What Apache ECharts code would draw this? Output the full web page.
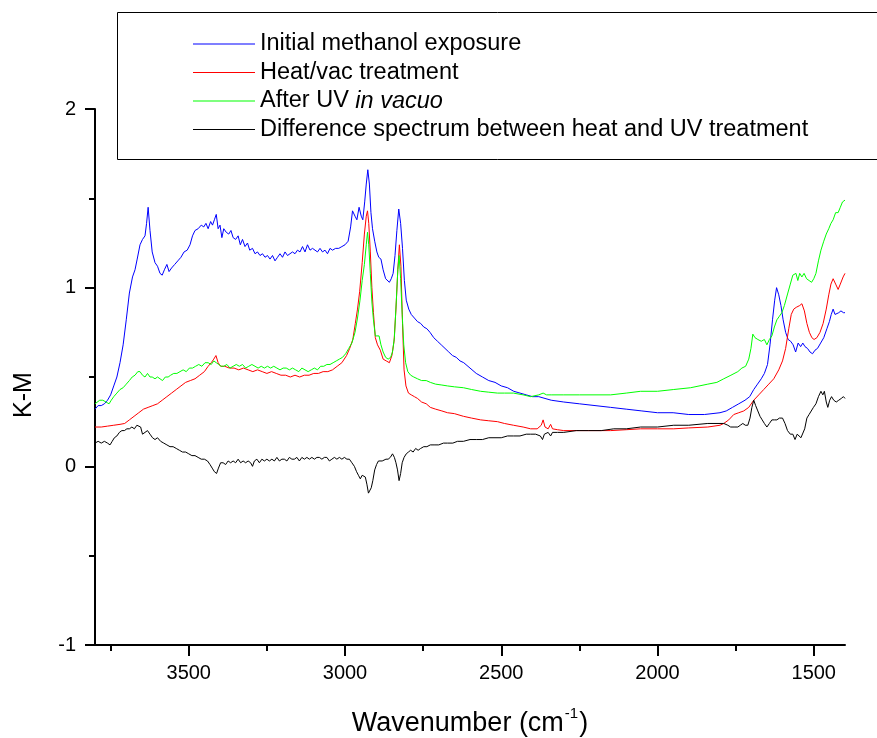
<!DOCTYPE html>
<html>
<head>
<meta charset="utf-8">
<script src="https://cdn.jsdelivr.net/npm/echarts@6/dist/echarts.min.js"></script>
<style>
html,body{margin:0;padding:0;background:#fff;}
#chart{width:877px;height:738px;}
</style>
</head>
<body>
<div id="chart"></div>
<script>
// ---- data (wavenumber cm-1, K-M) ----
const seriesNames = ['Initial methanol exposure', 'Heat/vac treatment', 'After UV in vacuo', 'Difference spectrum between heat and UV treatment'];
const seriesColors = ['#0000ff', '#ff0000', '#00ff00', '#000000'];
const xTickValues = [3500, 3000, 2500, 2000, 1500];
const xMinorTickValues = [3750, 3250, 2750, 2250, 1750];
const yTickValues = [-1, 0, 1, 2];

const initialMethanol = [
[3800,0.32],[3790,0.34],[3780,0.34],[3770,0.35],[3760,0.37],[3750,0.40],[3740,0.45],[3730,0.50],[3720,0.58],[3710,0.68],[3700,0.82],[3690,0.97],[3680,1.06],[3672,1.10],[3665,1.16],[3656,1.24],[3648,1.27],[3640,1.29],[3635,1.36],[3630,1.45],[3624,1.32],[3617,1.20],[3608,1.14],[3600,1.12],[3592,1.08],[3585,1.07],[3578,1.10],[3570,1.13],[3563,1.09],[3555,1.11],[3545,1.13],[3535,1.15],[3525,1.17],[3515,1.20],[3505,1.21],[3496,1.24],[3488,1.29],[3480,1.32],[3470,1.33],[3460,1.35],[3452,1.34],[3445,1.36],[3438,1.33],[3430,1.37],[3424,1.35],[3418,1.38],[3412,1.41],[3406,1.33],[3400,1.35],[3394,1.28],[3388,1.33],[3380,1.31],[3372,1.30],[3365,1.32],[3358,1.28],[3350,1.27],[3342,1.29],[3335,1.24],[3328,1.27],[3320,1.23],[3312,1.25],[3305,1.21],[3296,1.22],[3288,1.19],[3280,1.20],[3272,1.18],[3264,1.19],[3256,1.17],[3248,1.18],[3240,1.16],[3232,1.18],[3224,1.15],[3216,1.17],[3208,1.19],[3200,1.17],[3192,1.20],[3184,1.18],[3176,1.19],[3168,1.20],[3160,1.19],[3152,1.21],[3144,1.20],[3136,1.23],[3128,1.20],[3120,1.24],[3112,1.21],[3104,1.22],[3096,1.21],[3088,1.20],[3080,1.22],[3072,1.20],[3064,1.21],[3056,1.19],[3048,1.22],[3040,1.21],[3030,1.22],[3020,1.22],[3010,1.23],[3000,1.24],[2990,1.26],[2982,1.34],[2976,1.43],[2968,1.40],[2962,1.38],[2955,1.45],[2948,1.40],[2943,1.38],[2937,1.48],[2932,1.58],[2927,1.66],[2922,1.58],[2917,1.42],[2912,1.33],[2905,1.26],[2898,1.20],[2892,1.17],[2885,1.16],[2878,1.10],[2870,1.05],[2864,1.06],[2858,1.03],[2852,1.05],[2846,1.08],[2840,1.18],[2834,1.32],[2828,1.44],[2822,1.36],[2816,1.22],[2810,1.04],[2804,0.93],[2796,0.88],[2788,0.85],[2778,0.83],[2768,0.81],[2758,0.80],[2748,0.78],[2738,0.77],[2728,0.75],[2716,0.72],[2704,0.70],[2692,0.68],[2680,0.66],[2668,0.64],[2656,0.62],[2644,0.61],[2632,0.59],[2620,0.58],[2600,0.55],[2580,0.52],[2560,0.50],[2540,0.48],[2520,0.47],[2500,0.45],[2480,0.44],[2460,0.42],[2440,0.41],[2420,0.40],[2400,0.39],[2380,0.39],[2360,0.38],[2340,0.37],[2300,0.36],[2250,0.35],[2200,0.34],[2150,0.33],[2100,0.32],[2050,0.31],[2000,0.30],[1950,0.30],[1900,0.29],[1850,0.29],[1800,0.30],[1780,0.31],[1760,0.33],[1740,0.35],[1720,0.37],[1705,0.39],[1692,0.43],[1680,0.46],[1668,0.49],[1658,0.52],[1648,0.57],[1640,0.68],[1632,0.82],[1625,0.93],[1619,1.00],[1612,0.96],[1605,0.90],[1598,0.82],[1590,0.75],[1582,0.71],[1574,0.70],[1566,0.68],[1558,0.64],[1550,0.69],[1542,0.67],[1535,0.69],[1528,0.67],[1520,0.66],[1512,0.64],[1504,0.63],[1496,0.65],[1488,0.66],[1478,0.69],[1468,0.72],[1458,0.77],[1450,0.81],[1444,0.85],[1438,0.88],[1432,0.85],[1426,0.84],[1420,0.86],[1413,0.87],[1405,0.86],[1400,0.86]
];

const heatVac = [
[3800,0.22],[3780,0.22],[3760,0.225],[3740,0.23],[3720,0.235],[3705,0.24],[3690,0.26],[3675,0.28],[3660,0.30],[3645,0.32],[3630,0.33],[3615,0.34],[3600,0.35],[3585,0.37],[3570,0.39],[3555,0.41],[3540,0.43],[3525,0.45],[3510,0.47],[3495,0.48],[3480,0.49],[3465,0.51],[3450,0.53],[3438,0.56],[3428,0.58],[3420,0.60],[3413,0.62],[3406,0.58],[3398,0.56],[3385,0.56],[3370,0.55],[3355,0.55],[3340,0.54],[3325,0.55],[3310,0.54],[3295,0.53],[3280,0.54],[3265,0.53],[3250,0.52],[3235,0.53],[3220,0.52],[3205,0.51],[3190,0.51],[3175,0.50],[3160,0.51],[3145,0.50],[3130,0.51],[3115,0.51],[3100,0.52],[3085,0.52],[3070,0.53],[3055,0.53],[3040,0.54],[3025,0.56],[3010,0.58],[2995,0.62],[2985,0.66],[2975,0.71],[2967,0.80],[2960,0.88],[2953,0.98],[2945,1.14],[2938,1.30],[2932,1.40],[2928,1.43],[2924,1.36],[2919,1.20],[2914,1.00],[2909,0.86],[2903,0.72],[2896,0.68],[2887,0.65],[2878,0.60],[2868,0.59],[2858,0.58],[2850,0.62],[2843,0.70],[2837,0.88],[2831,1.10],[2826,1.24],[2821,1.12],[2816,0.80],[2811,0.54],[2805,0.45],[2797,0.41],[2788,0.40],[2778,0.39],[2768,0.38],[2755,0.36],[2740,0.35],[2727,0.33],[2710,0.32],[2690,0.31],[2672,0.30],[2650,0.295],[2621,0.28],[2595,0.27],[2566,0.26],[2540,0.255],[2512,0.25],[2490,0.24],[2461,0.23],[2430,0.22],[2406,0.21],[2385,0.21],[2372,0.23],[2366,0.26],[2360,0.22],[2350,0.21],[2342,0.235],[2336,0.21],[2320,0.205],[2300,0.20],[2250,0.20],[2200,0.20],[2150,0.20],[2100,0.205],[2054,0.21],[2000,0.21],[1948,0.21],[1900,0.215],[1839,0.22],[1800,0.23],[1788,0.24],[1772,0.26],[1756,0.29],[1740,0.30],[1724,0.31],[1708,0.33],[1692,0.37],[1676,0.40],[1660,0.43],[1644,0.46],[1628,0.49],[1612,0.54],[1600,0.59],[1590,0.66],[1580,0.77],[1572,0.85],[1564,0.88],[1556,0.89],[1545,0.90],[1538,0.91],[1530,0.87],[1522,0.80],[1514,0.75],[1506,0.72],[1499,0.71],[1490,0.72],[1480,0.75],[1470,0.80],[1460,0.88],[1452,0.96],[1445,1.02],[1438,1.05],[1430,1.02],[1422,0.99],[1415,1.02],[1406,1.06],[1400,1.08]
];

const afterUV = [
[3800,0.35],[3795,0.36],[3785,0.37],[3775,0.37],[3765,0.36],[3755,0.35],[3748,0.37],[3740,0.39],[3730,0.41],[3720,0.43],[3710,0.44],[3700,0.46],[3690,0.48],[3681,0.50],[3672,0.51],[3663,0.53],[3656,0.53],[3648,0.51],[3640,0.50],[3632,0.52],[3624,0.50],[3617,0.50],[3608,0.49],[3600,0.50],[3592,0.49],[3584,0.48],[3575,0.50],[3566,0.50],[3558,0.51],[3548,0.52],[3538,0.52],[3528,0.53],[3518,0.54],[3508,0.53],[3498,0.55],[3488,0.55],[3478,0.56],[3468,0.57],[3458,0.56],[3448,0.58],[3438,0.58],[3428,0.57],[3420,0.59],[3412,0.58],[3404,0.57],[3396,0.56],[3388,0.56],[3378,0.57],[3368,0.55],[3358,0.56],[3348,0.57],[3338,0.56],[3328,0.57],[3318,0.55],[3308,0.56],[3298,0.57],[3288,0.56],[3278,0.55],[3268,0.56],[3258,0.55],[3248,0.56],[3238,0.55],[3228,0.56],[3218,0.55],[3208,0.54],[3198,0.55],[3188,0.55],[3178,0.54],[3168,0.55],[3158,0.54],[3148,0.53],[3138,0.55],[3128,0.54],[3118,0.53],[3108,0.54],[3098,0.55],[3088,0.54],[3078,0.56],[3068,0.56],[3058,0.57],[3048,0.57],[3038,0.58],[3028,0.59],[3018,0.60],[3008,0.61],[2998,0.63],[2988,0.66],[2978,0.69],[2968,0.75],[2960,0.83],[2952,0.93],[2945,1.04],[2938,1.13],[2932,1.24],[2928,1.31],[2924,1.24],[2919,1.08],[2914,0.92],[2909,0.82],[2903,0.73],[2897,0.72],[2891,0.73],[2885,0.68],[2878,0.64],[2870,0.61],[2862,0.60],[2854,0.61],[2848,0.64],[2842,0.72],[2836,0.92],[2831,1.10],[2827,1.18],[2822,1.05],[2817,0.85],[2812,0.68],[2806,0.58],[2799,0.53],[2790,0.51],[2780,0.50],[2768,0.49],[2755,0.48],[2740,0.48],[2727,0.47],[2710,0.46],[2690,0.455],[2672,0.45],[2650,0.445],[2621,0.44],[2595,0.43],[2566,0.42],[2540,0.415],[2512,0.41],[2490,0.41],[2461,0.41],[2430,0.40],[2406,0.39],[2380,0.40],[2366,0.41],[2355,0.40],[2340,0.40],[2300,0.40],[2250,0.40],[2200,0.40],[2150,0.40],[2100,0.41],[2054,0.42],[2000,0.42],[1948,0.43],[1894,0.44],[1839,0.46],[1810,0.47],[1788,0.49],[1765,0.51],[1743,0.53],[1730,0.55],[1718,0.56],[1708,0.60],[1701,0.66],[1695,0.74],[1688,0.72],[1679,0.71],[1668,0.70],[1658,0.71],[1650,0.68],[1642,0.71],[1634,0.73],[1626,0.78],[1618,0.82],[1610,0.84],[1602,0.86],[1594,0.90],[1583,0.97],[1575,1.02],[1567,1.07],[1557,1.08],[1551,1.04],[1545,1.08],[1538,1.06],[1531,1.08],[1523,1.05],[1515,1.04],[1507,1.03],[1500,1.05],[1493,1.08],[1485,1.15],[1477,1.21],[1468,1.26],[1460,1.30],[1452,1.33],[1445,1.36],[1438,1.38],[1430,1.42],[1422,1.42],[1415,1.45],[1408,1.48],[1400,1.49]
];

const difference = [
[3800,0.13],[3790,0.14],[3780,0.13],[3770,0.14],[3760,0.13],[3752,0.12],[3745,0.14],[3738,0.16],[3730,0.17],[3722,0.19],[3714,0.20],[3706,0.20],[3698,0.21],[3690,0.21],[3682,0.22],[3674,0.21],[3666,0.23],[3660,0.24],[3654,0.22],[3648,0.18],[3640,0.19],[3632,0.20],[3624,0.18],[3616,0.16],[3608,0.15],[3600,0.16],[3590,0.14],[3580,0.13],[3570,0.12],[3560,0.11],[3550,0.11],[3540,0.10],[3530,0.09],[3520,0.08],[3510,0.08],[3500,0.07],[3490,0.06],[3480,0.06],[3470,0.05],[3460,0.04],[3450,0.04],[3440,0.03],[3432,0.01],[3425,-0.01],[3418,-0.03],[3411,-0.04],[3405,-0.01],[3398,0.02],[3390,0.02],[3382,0.01],[3374,0.03],[3366,0.02],[3358,0.03],[3350,0.02],[3342,0.04],[3334,0.02],[3326,0.03],[3318,0.02],[3310,0.03],[3302,0.02],[3296,0.00],[3290,0.03],[3282,0.04],[3274,0.02],[3266,0.04],[3258,0.03],[3250,0.04],[3242,0.03],[3234,0.04],[3226,0.03],[3218,0.05],[3210,0.03],[3202,0.04],[3194,0.04],[3186,0.03],[3178,0.05],[3170,0.04],[3162,0.04],[3154,0.05],[3146,0.03],[3138,0.05],[3130,0.04],[3122,0.05],[3114,0.04],[3106,0.05],[3098,0.04],[3090,0.05],[3082,0.05],[3074,0.04],[3066,0.05],[3058,0.05],[3050,0.03],[3042,0.04],[3034,0.05],[3026,0.04],[3018,0.05],[3010,0.04],[3002,0.05],[2994,0.04],[2986,0.04],[2978,0.02],[2970,0.00],[2963,-0.03],[2957,-0.05],[2951,-0.07],[2945,-0.05],[2940,-0.05],[2935,-0.06],[2930,-0.10],[2925,-0.15],[2921,-0.16],[2916,-0.12],[2911,-0.08],[2905,-0.02],[2899,0.01],[2893,0.03],[2887,0.02],[2881,0.03],[2875,0.02],[2869,0.04],[2862,0.04],[2855,0.05],[2848,0.07],[2842,0.05],[2837,0.02],[2832,-0.02],[2827,-0.08],[2822,-0.04],[2817,0.02],[2811,0.05],[2804,0.07],[2797,0.08],[2790,0.09],[2782,0.08],[2774,0.10],[2766,0.09],[2758,0.10],[2748,0.11],[2738,0.11],[2727,0.12],[2715,0.12],[2700,0.12],[2685,0.13],[2672,0.13],[2655,0.13],[2640,0.14],[2621,0.14],[2600,0.15],[2580,0.15],[2560,0.15],[2540,0.16],[2520,0.16],[2500,0.16],[2480,0.17],[2461,0.17],[2440,0.17],[2420,0.18],[2406,0.18],[2390,0.18],[2375,0.17],[2368,0.15],[2362,0.18],[2350,0.19],[2342,0.17],[2336,0.19],[2320,0.19],[2300,0.19],[2260,0.20],[2220,0.20],[2180,0.20],[2140,0.21],[2100,0.21],[2054,0.22],[2000,0.22],[1948,0.23],[1900,0.23],[1839,0.24],[1800,0.24],[1788,0.24],[1775,0.23],[1766,0.22],[1755,0.22],[1743,0.22],[1735,0.23],[1727,0.24],[1719,0.23],[1711,0.23],[1704,0.27],[1698,0.33],[1692,0.37],[1686,0.34],[1679,0.31],[1672,0.28],[1665,0.26],[1658,0.24],[1650,0.22],[1642,0.24],[1634,0.26],[1626,0.26],[1618,0.26],[1610,0.27],[1600,0.27],[1592,0.24],[1584,0.20],[1575,0.18],[1567,0.18],[1560,0.15],[1553,0.18],[1547,0.19],[1541,0.16],[1535,0.15],[1529,0.21],[1522,0.27],[1515,0.29],[1509,0.30],[1501,0.33],[1493,0.35],[1485,0.39],[1477,0.42],[1471,0.40],[1466,0.42],[1460,0.36],[1455,0.33],[1449,0.37],[1443,0.39],[1436,0.37],[1428,0.36],[1420,0.37],[1412,0.38],[1405,0.39],[1400,0.38]
];

const allData = [initialMethanol, heatVac, afterUV, difference];

// ---- chart ----
const FONT = '"Liberation Sans", Arial, sans-serif';
const chart = echarts.init(document.getElementById('chart'), null, {renderer: 'canvas'});

const series = allData.map((d, i) => ({
  name: seriesNames[i],
  type: 'line',
  data: d,
  xAxisIndex: 0,
  yAxisIndex: 0,
  symbol: 'none',
  showSymbol: false,
  smooth: false,
  animation: false,
  color: seriesColors[i],
  lineStyle: {color: seriesColors[i], width: 1},
  itemStyle: {color: seriesColors[i]},
  z: 2
}));

const option = {
  backgroundColor: '#ffffff',
  animation: false,
  grid: {left: 95, right: 32, top: 109, bottom: 93, containLabel: false, outerBoundsMode: 'none'},
  xAxis: [{
    type: 'value', inverse: true, min: 1400, max: 3800,
    position: 'bottom',
    name: '{a|Wavenumber (cm}{s|-1}{a|)}',
    nameLocation: 'middle', nameGap: 61, nameMoveOverlap: false,
    nameTextStyle: {
      rich: {
        a: {fontFamily: FONT, fontSize: 27, color: '#000', verticalAlign: 'bottom', lineHeight: 31},
        s: {fontFamily: FONT, fontSize: 15, color: '#000', verticalAlign: 'top', lineHeight: 31, padding: [0, 1, 14, 1]}
      }
    },
    axisLine: {show: true, onZero: false, lineStyle: {color: '#000', width: 2}},
    axisTick: {show: true, inside: false, length: 11, customValues: xTickValues, lineStyle: {color: '#000', width: 2}},
    axisLabel: {show: true, margin: 18, customValues: xTickValues, fontFamily: FONT, fontSize: 20, color: '#000',
      formatter: function (v) { return String(v); }},
    splitLine: {show: false}
  }, {
    type: 'value', inverse: true, min: 1400, max: 3800,
    position: 'bottom',
    axisLine: {show: false, onZero: false},
    axisTick: {show: true, inside: false, length: 6, customValues: xMinorTickValues, lineStyle: {color: '#000', width: 2}},
    axisLabel: {show: false},
    splitLine: {show: false}
  }],
  yAxis: {
    type: 'value', min: -1, max: 2, interval: 1,
    position: 'left',
    name: 'K-M', nameLocation: 'middle', nameGap: 58, nameRotate: 90, nameMoveOverlap: false,
    nameTextStyle: {fontFamily: FONT, fontSize: 25, color: '#000', padding: [0, 36, 0, 0]},
    axisLine: {show: true, onZero: false, lineStyle: {color: '#000', width: 2}},
    axisTick: {show: true, inside: false, length: 10, lineStyle: {color: '#000', width: 2}},
    minorTick: {show: true, splitNumber: 2, length: 6, lineStyle: {color: '#000', width: 2}},
    axisLabel: {show: true, margin: 19, fontFamily: FONT, fontSize: 20, color: '#000',
      formatter: function (v) { return String(v); }},
    splitLine: {show: false},
    minorSplitLine: {show: false}
  },
  legend: {
    show: true, orient: 'vertical', left: 193, top: 32, padding: 0,
    itemWidth: 62, itemHeight: 1, itemGap: 4.5,
    icon: 'rect',
    data: seriesNames,
    formatter: function (name) {
      if (name === 'After UV in vacuo') return '{n|After UV }{i|in vacuo}';
      return '{n|' + name + '}';
    },
    textStyle: {
      fontFamily: FONT, fontSize: 23.5, color: '#000', lineHeight: 24,
      rich: {
        n: {fontFamily: FONT, fontSize: 23.5, color: '#000', lineHeight: 24},
        i: {fontFamily: FONT, fontSize: 23.5, color: '#000', lineHeight: 24, fontStyle: 'italic'}
      }
    },
    selectedMode: false
  },
  graphic: [{
    type: 'rect', z: 0, silent: true,
    shape: {x: 117.5, y: 12.5, width: 800, height: 147},
    style: {fill: 'none', stroke: '#000', lineWidth: 1}
  }],
  series: series
};
chart.setOption(option);
</script>
</body>
</html>
